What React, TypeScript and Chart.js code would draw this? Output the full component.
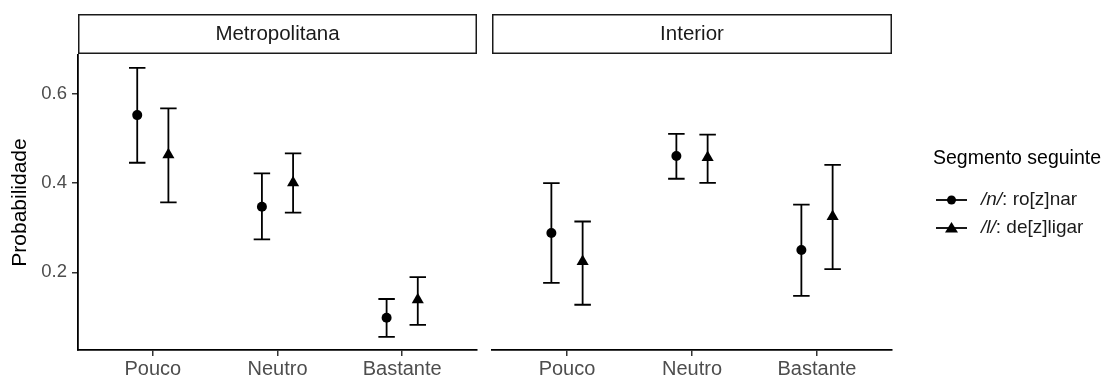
import { useEffect, useRef } from 'react';
import { Chart, registerables } from 'chart.js';
Chart.register(...registerables);

const categories = ['Pouco', 'Neutro', 'Bastante'];
const facets = ['Metropolitana', 'Interior'];
const yTicks = [0.2, 0.4, 0.6];
const legendTitle = 'Segmento seguinte';
const seriesItalic = ['/n/', '/l/'];
const seriesRest = [': ro[z]nar', ': de[z]ligar'];

// Metropolitana
const metroN = [0.553, 0.347, 0.098];
const metroNLo = [0.446, 0.274, 0.055];
const metroNHi = [0.659, 0.422, 0.140];
const metroL = [0.464, 0.401, 0.138];
const metroLLo = [0.357, 0.334, 0.082];
const metroLHi = [0.568, 0.467, 0.189];
// Interior
const intN = [0.288, 0.461, 0.250];
const intNLo = [0.176, 0.410, 0.147];
const intNHi = [0.400, 0.511, 0.352];
const intL = [0.224, 0.458, 0.325];
const intLLo = [0.127, 0.401, 0.207];
const intLHi = [0.314, 0.509, 0.441];

const DODGE = 0.125;
const CAP = 0.066;
const FONT = "'Liberation Sans', Arial, sans-serif";

type Series = { v: number[]; lo: number[]; hi: number[]; style: string; off: number };

function makeChart(canvas: HTMLCanvasElement, facet: number, withY: boolean, withLegend: boolean, offsetX: number) {
  const series: Series[] = facet === 0
    ? [
        { v: metroN, lo: metroNLo, hi: metroNHi, style: 'circle', off: -DODGE },
        { v: metroL, lo: metroLLo, hi: metroLHi, style: 'triangle', off: DODGE },
      ]
    : [
        { v: intN, lo: intNLo, hi: intNHi, style: 'circle', off: -DODGE },
        { v: intL, lo: intLLo, hi: intLHi, style: 'triangle', off: DODGE },
      ];

  const errPlugin = {
    id: 'err' + facet,
    beforeDatasetsDraw(chart: any) {
      const { ctx, scales } = chart;
      const xs = scales.x, ys = scales.y;
      ctx.save();
      ctx.strokeStyle = '#000';
      ctx.lineWidth = 1.8;
      series.forEach((s) => {
        s.v.forEach((_, i) => {
          const xc = i + 1 + s.off;
          const px = xs.getPixelForValue(xc);
          const pl = xs.getPixelForValue(xc - CAP);
          const pr = xs.getPixelForValue(xc + CAP);
          const yl = ys.getPixelForValue(s.lo[i]);
          const yh = ys.getPixelForValue(s.hi[i]);
          ctx.beginPath();
          ctx.moveTo(px, yl); ctx.lineTo(px, yh);
          ctx.moveTo(pl, yl); ctx.lineTo(pr, yl);
          ctx.moveTo(pl, yh); ctx.lineTo(pr, yh);
          ctx.stroke();
        });
      });
      ctx.restore();
    },
    afterDraw(chart: any) {
      const { ctx, chartArea } = chart;
      ctx.save();
      // strip
      ctx.fillStyle = '#fff';
      ctx.strokeStyle = '#1a1a1a';
      ctx.lineWidth = 1.5;
      ctx.fillRect(chartArea.left, 14, chartArea.right - chartArea.left, 39);
      ctx.strokeRect(chartArea.left + 0.75, 14.75, chartArea.right - chartArea.left - 1.5, 38.5);
      ctx.fillStyle = '#1a1a1a';
      ctx.font = `20.5px ${FONT}`;
      ctx.textAlign = 'center';
      ctx.textBaseline = 'middle';
      ctx.fillText(facets[facet], (chartArea.left + chartArea.right) / 2, 34);
      if (withLegend) {
        ctx.textAlign = 'left';
        ctx.fillStyle = '#000';
        ctx.font = `19.5px ${FONT}`;
        ctx.fillText(legendTitle, 933 - offsetX, 159);
        [200, 228].forEach((y, k) => {
          ctx.strokeStyle = '#000';
          ctx.lineWidth = 1.8;
          ctx.beginPath();
          ctx.moveTo(936 - offsetX, y);
          ctx.lineTo(967 - offsetX, y);
          ctx.stroke();
          ctx.fillStyle = '#000';
          const cx = 951.5 - offsetX;
          ctx.beginPath();
          if (k === 0) {
            ctx.arc(cx, y, 4.5, 0, Math.PI * 2);
          } else {
            ctx.moveTo(cx, y - 6);
            ctx.lineTo(cx + 6.5, y + 4.5);
            ctx.lineTo(cx - 6.5, y + 4.5);
            ctx.closePath();
          }
          ctx.fill();
          ctx.fillStyle = '#1a1a1a';
          ctx.font = `italic 19px ${FONT}`;
          const x0 = 981 - offsetX;
          ctx.fillText(seriesItalic[k], x0, y);
          const w = ctx.measureText(seriesItalic[k]).width;
          ctx.font = `19px ${FONT}`;
          ctx.fillText(seriesRest[k], x0 + w, y);
        });
      }
      ctx.restore();
    },
  };

  return new Chart(canvas, {
    type: 'scatter',
    data: {
      datasets: series.map((s, si) => ({
        label: seriesItalic[si] + seriesRest[si],
        data: s.v.map((v, i) => ({ x: i + 1 + s.off, y: v })),
        pointStyle: s.style as any,
        pointRadius: s.style === 'circle' ? 5 : 7,
        backgroundColor: '#000',
        borderColor: '#000',
        borderWidth: 0,
      })),
    },
    options: {
      responsive: false,
      animation: false,
      events: [],
      layout: {
        autoPadding: false,
        padding: withY
          ? { left: 0, right: 3, top: 55, bottom: 0 }
          : { left: 12, right: 629 - (892 - 480), top: 55, bottom: 0 },
      },
      plugins: { legend: { display: false }, tooltip: { enabled: false } },
      scales: {
        x: {
          type: 'linear',
          min: 0.4,
          max: 3.6,
          afterBuildTicks: (s: any) => { s.ticks = [1, 2, 3].map((v) => ({ value: v })); },
          afterFit: (s: any) => { s.height = 29; },
          ticks: {
            callback: (v: any) => categories[Number(v) - 1] ?? '',
            color: '#4d4d4d',
            font: { family: FONT, size: 20 },
            padding: 1,
            maxRotation: 0,
          },
          grid: { display: true, drawOnChartArea: false, drawTicks: true, tickLength: 6, color: '#333', lineWidth: 1.5 },
          border: { display: true, color: '#000', width: 1.8 },
        },
        y: {
          type: 'linear',
          display: withY,
          min: 0.0254,
          max: 0.688,
          afterBuildTicks: (s: any) => { s.ticks = yTicks.map((v) => ({ value: v })); },
          afterFit: (s: any) => { if (withY) s.width = 78; },
          ticks: {
            callback: (v: any) => Number(v).toFixed(1),
            color: '#4d4d4d',
            font: { family: FONT, size: 18.5 },
            padding: 5,
          },
          title: {
            display: true,
            text: 'Probabilidade',
            color: '#000',
            font: { family: FONT, size: 21 },
            padding: { top: 8, bottom: 0 },
          },
          grid: { display: true, drawOnChartArea: false, drawTicks: true, tickLength: 6, color: '#333', lineWidth: 1.5 },
          border: { display: true, color: '#000', width: 1.8 },
        },
      },
    },
    plugins: [errPlugin],
  } as any);
}

export default function App() {
  const c1 = useRef<HTMLCanvasElement>(null);
  const c2 = useRef<HTMLCanvasElement>(null);
  useEffect(() => {
    document.body.style.margin = '0';
    const a = makeChart(c1.current!, 0, true, false, 0);
    const b = makeChart(c2.current!, 1, false, true, 480);
    return () => { a.destroy(); b.destroy(); };
  }, []);
  return (
    <div style={{ position: 'relative', width: 1109, height: 379, background: '#fff' }}>
      <canvas ref={c1} width={480} height={379} style={{ position: 'absolute', left: 0, top: 0 }} />
      <canvas ref={c2} width={629} height={379} style={{ position: 'absolute', left: 480, top: 0 }} />
    </div>
  );
}
